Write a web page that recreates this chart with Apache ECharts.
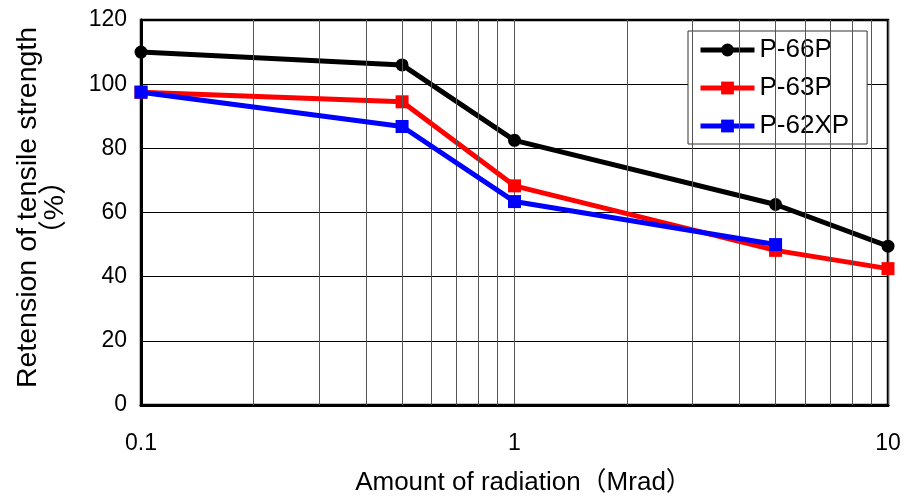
<!DOCTYPE html>
<html>
<head>
<meta charset="utf-8">
<script src="https://cdn.jsdelivr.net/npm/echarts@6/dist/echarts.min.js"></script>
<style>
html,body{margin:0;padding:0;background:#fff;}
#chart{width:905px;height:501px;}
</style>
</head>
<body>
<div id="chart"></div>
<script>
// ---- data ----
const radiation = [0.1, 0.5, 1, 5, 10];
const p66p = [110, 106, 82.5, 62.5, 49.5];
const p63p = [97.5, 94.5, 68.3, 48.2, 42.5];
const p62xpX = [0.1, 0.5, 1, 5];
const p62xp = [97.5, 86.8, 63.4, 50];
const seriesNames = ['P-66P', 'P-63P', 'P-62XP'];
const minorGridX = [0.2, 0.3, 0.4, 0.5, 0.6, 0.7, 0.8, 0.9, 2, 3, 4, 5, 6, 7, 8, 9];
const xTitle = 'Amount of radiation（Mrad）';
const yTitle = 'Retension of tensile strength\n（%）';

const FONT = '"Liberation Sans", Arial, "Noto Sans CJK JP", sans-serif';
const chart = echarts.init(document.getElementById('chart'));

function pairs(xs, ys) { return xs.map((x, i) => [x, ys[i]]); }

chart.setOption({
  animation: false,
  backgroundColor: '#fff',
  grid: {
    left: 141, right: 17, top: 20, bottom: 96,
    show: true, borderColor: '#000', borderWidth: 2.5, backgroundColor: 'transparent'
  },
  legend: {
    data: seriesNames,
    orient: 'vertical',
    left: 688, top: 31,
    padding: [6, 18, 5, 10],
    itemWidth: 54, itemHeight: 16,
    itemGap: 12,
    backgroundColor: '#fff',
    borderColor: '#333', borderWidth: 1,
    lineStyle: { width: 5 },
    textStyle: { fontFamily: FONT, fontSize: 26, color: '#000', lineHeight: 26 }
  },
  xAxis: {
    type: 'log', logBase: 10, min: 0.1, max: 10,
    name: xTitle, nameLocation: 'middle', nameGap: 65,
    nameTextStyle: { fontFamily: FONT, fontSize: 26, color: '#000', padding: [0, 0, 0, 18] },
    axisLine: { onZero: false, lineStyle: { color: '#000', width: 3 } },
    axisTick: { show: false },
    axisLabel: { fontFamily: FONT, fontSize: 23, color: '#000', margin: 27,
      formatter: v => String(v) },
    splitLine: { show: true, lineStyle: { color: '#555', width: 1 } },
    minorTick: { show: false }, minorSplitLine: { show: false }
  },
  yAxis: {
    type: 'value', min: 0, max: 120, interval: 20,
    name: yTitle, nameLocation: 'middle', nameGap: 72, nameRotate: 90,
    nameTextStyle: { fontFamily: FONT, fontSize: 28.5, color: '#000', lineHeight: 27, align: 'center',
      padding: [0, 0, 0, 10] },
    axisLine: { show: true, lineStyle: { color: '#000', width: 3 } },
    axisTick: { show: false },
    axisLabel: { fontFamily: FONT, fontSize: 23, color: '#000', margin: 14 },
    splitLine: { show: true, lineStyle: { color: '#000', width: 1 } }
  },
  series: [
    {
      name: 'minor', type: 'line', data: [], z: 1, silent: true,
      markLine: {
        silent: true, symbol: 'none', animation: false,
        label: { show: false },
        lineStyle: { color: '#555', width: 1, type: 'solid' },
        data: minorGridX.map(v => ({ xAxis: v }))
      }
    },
    {
      name: seriesNames[0], type: 'line', z: 3,
      data: pairs(radiation, p66p),
      symbol: 'circle', symbolSize: 13,
      lineStyle: { color: '#000', width: 5 },
      itemStyle: { color: '#000' }
    },
    {
      name: seriesNames[1], type: 'line', z: 4,
      data: pairs(radiation, p63p),
      symbol: 'rect', symbolSize: 13,
      lineStyle: { color: '#ff0000', width: 5 },
      itemStyle: { color: '#ff0000' }
    },
    {
      name: seriesNames[2], type: 'line', z: 5,
      data: pairs(p62xpX, p62xp),
      symbol: 'rect', symbolSize: 13,
      lineStyle: { color: '#0000ff', width: 5 },
      itemStyle: { color: '#0000ff' }
    }
  ]
});
</script>
</body>
</html>
